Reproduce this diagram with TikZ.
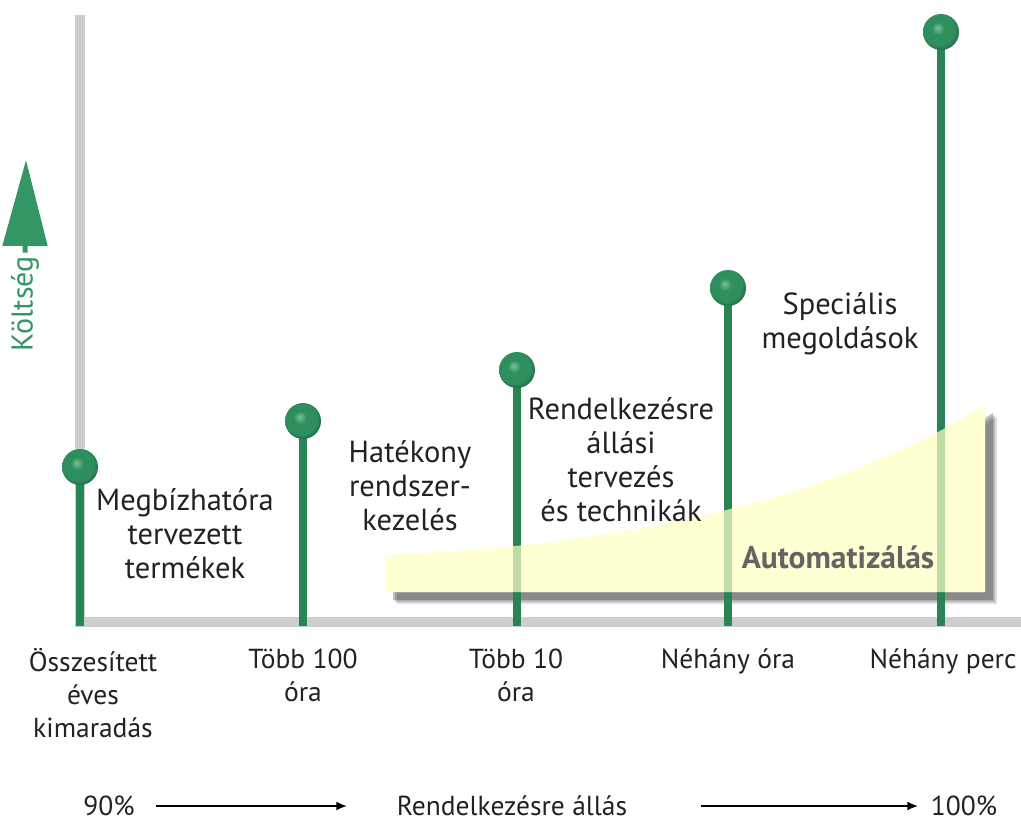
\documentclass[tikz,border=0pt]{standalone}
\usepackage{fontspec}
\setmainfont{PT Sans}
\usepackage{xcolor}
\usetikzlibrary{arrows.meta}
\usetikzlibrary{calc}

\definecolor{stemgreen}{RGB}{40,132,86}
\definecolor{costgreen}{RGB}{52,150,100}
\definecolor{axisgray}{RGB}{206,206,206}
\definecolor{autoyellow}{RGB}{255,255,196}
\definecolor{textgray}{RGB}{34,34,34}
\definecolor{autogray}{RGB}{100,100,100}
\definecolor{knobhi}{RGB}{120,196,152}
\definecolor{knobmid}{RGB}{46,142,94}
\definecolor{knobdark}{RGB}{22,92,58}

\pgfdeclareradialshading{knobshade}{\pgfpoint{-5bp}{6bp}}{color(0bp)=(knobhi); color(9bp)=(knobmid); color(22bp)=(knobmid); color(31bp)=(knobdark); color(50bp)=(knobdark)}

\tikzset{
  stem/.style={line width=8pt, draw=stemgreen},
  knob/.style={circle, minimum size=36pt, inner sep=0pt, shading=knobshade},
  lbl/.style={align=center, font=\fontsize{30.5}{34}\selectfont, text=textgray},
  axlbl/.style={align=center, font=\fontsize{27.5}{33}\selectfont, text=textgray},
}
\newcommand{\autopath}{(385,555) .. controls (650,545) and (850,490) .. (985,405) -- (985,592) -- (385,592) -- cycle}

\begin{document}
\begin{tikzpicture}[x=1pt,y=-1pt]
\useasboundingbox (0,0) rectangle (1021,823);
%% axes
\draw[axisgray, line width=10pt] (80,15) -- (80,622) -- (1021,622);
%% cost arrow
\node[rotate=90, font=\fontsize{30}{32}\selectfont, text=costgreen] (cost) at (25,304) {Költség};
\coordinate (ctip) at (26,160);
\draw[costgreen, line width=5pt, -{Triangle[length=86pt,width=44pt]}] (cost.east) -- (ctip);
%% automation area: shadow + white base
\foreach \s/\o in {12/0.12,10/0.18,8/0.25}
  \fill[black, opacity=\o, shift={(\s,\s)}] \autopath;
\fill[white] \autopath;
%% stems
\foreach \i/\x/\y in {1/80/467, 2/303/421, 3/517/370, 4/728/288, 5/941/32} {
  \coordinate (t\i) at (\x,\y);
  \coordinate (f\i) at (\x,626);
  \draw[stem] (t\i) -- (f\i);
}
\fill[autoyellow, fill opacity=0.72] \autopath;
\foreach \i in {1,...,5}
  \node[knob] (b\i) at (t\i) {};
%% labels
\node[lbl] (rel) at (185,534) {Megbízhatóra\\tervezett\\termékek};
\node[lbl] (eff) at (410,486) {Hatékony\\rendszer-\\kezelés};
\node[lbl] (avp) at (621,460) {Rendelkezésre\\állási\\tervezés\\és technikák};
\node[lbl] (spec) at (840,324) {Speciális\\megoldások};
\node[lbl, font=\fontsize{31.5}{34}\selectfont\bfseries, text=autogray] (auto) at (838,557) {Automatizálás};
%% x labels
\node[axlbl, anchor=north] (x1) at (93,645) {Összesített\\éves\\kimaradás};
\node[axlbl, anchor=north] (x2) at (303,645) {Több 100\\óra};
\node[axlbl, anchor=north] (x3) at (516,645) {Több 10\\óra};
\node[axlbl, anchor=north] (x4) at (728,645) {Néhány óra};
\node[axlbl, anchor=north] (x5) at (943,645) {Néhány perc};
%% availability
\node[axlbl] (p90) at (109,806) {90\%};
\node[axlbl] (avail) at (512,806) {Rendelkezésre állás};
\node[axlbl] (p100) at (964,806) {100\%};
\draw[line width=2.2pt, -{Latex[length=11pt,width=9pt]}, shorten <=18pt, shorten >=46pt] (p90) -- (avail);
\draw[line width=2.2pt, -{Latex[length=11pt,width=9pt]}, shorten <=70pt, shorten >=9pt] (avail) -- (p100);
\end{tikzpicture}
\end{document}
